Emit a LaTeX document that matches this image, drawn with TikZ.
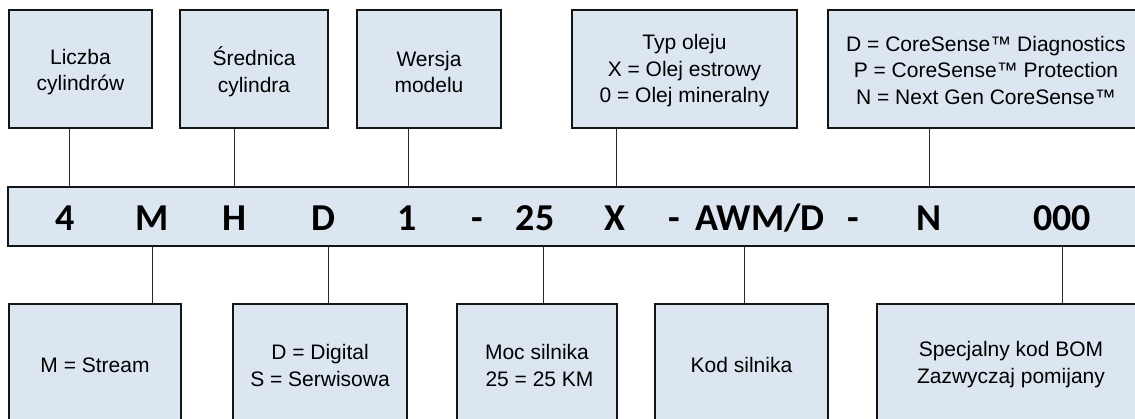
\documentclass[tikz,border=0pt]{standalone}
\usepackage{fontspec}
\setmainfont{Liberation Sans}
\newfontfamily\codefont{Carlito}
\definecolor{panel}{RGB}{220,230,241}
\definecolor{edge}{RGB}{20,20,20}
\definecolor{linkc}{RGB}{40,40,40}
\tikzset{
  box/.style={draw=edge, line width=2.4pt, fill=panel, align=center,
    font=\fontsize{21}{27}\selectfont, inner sep=0pt},
  topbox/.style={box, minimum height=118pt},
  botbox/.style={box, minimum height=122pt},
  boxtext/.style={align=center, font=\fontsize{21}{26.5}\selectfont, inner sep=0pt},
  codechar/.style={font=\codefont\bfseries\fontsize{38}{38}\selectfont,
    anchor=base, inner sep=0pt},
  link/.style={draw=linkc, line width=1pt},
}
\begin{document}
\begin{tikzpicture}[x=1pt,y=-1pt]
\useasboundingbox (0,0) rectangle (1135,419);
\clip (0,0) rectangle (1135,419);

% upper description boxes
\node[topbox, minimum width=143pt] (t1) at (80.5,69) {};
\node[topbox, minimum width=148pt] (t2) at (254,69) {};
\node[topbox, minimum width=144pt] (t3) at (429,69) {};
\node[topbox, minimum width=225pt] (t4) at (684.5,69) {};
\node[topbox, minimum width=316pt] (t5) at (986,69) {};
\node[boxtext] (t1l) at ([yshift=-3pt]t1.center) {Liczba\\cylindrów};
\node[boxtext] (t2l) at ([yshift=-3pt]t2.center) {Średnica\\cylindra};
\node[boxtext] (t3l) at ([yshift=-3pt]t3.center) {Wersja\\modelu};
\node[boxtext] (t4l) at ([yshift=-2pt]t4.center)
  {Typ oleju\\X = Olej estrowy\\0 = Olej mineralny};
\node[boxtext] (t5l) at ([yshift=-1pt]t5.center)
  {D = CoreSense™ Diagnostics\\P = CoreSense™ Protection\\N = Next Gen CoreSense™};

% model code band
\node[box, minimum width=1142pt, minimum height=59pt] (band) at (579,216.5) {};
\node[codechar] (c1) at (65,231) {4};
\node[codechar] (c2) at (152,231) {M};
\node[codechar] (c3) at (234,231) {H};
\node[codechar] (c4) at (323,231) {D};
\node[codechar] (c5) at (407,231) {1};
\node[codechar] (c6) at (477,231) {-};
\node[codechar] (c7) at (535,231) {25};
\node[codechar] (c8) at (615,231) {X};
\node[codechar] (c9) at (674,231) {-};
\node[codechar] (c10) at (760,231) {AWM/D};
\node[codechar] (c11) at (853,231) {-};
\node[codechar] (c12) at (929,231) {N};
\node[codechar] (c13) at (1062,231) {000};

% lower description boxes
\node[botbox, minimum width=172pt] (b1) at (95,365) {M = Stream};
\node[botbox, minimum width=174pt] (b2) at (320,365) {D = Digital\\S = Serwisowa};
\node[botbox, minimum width=160pt] (b3) at (537,365) {Moc silnika\\\hspace*{5pt}25 = 25 KM};
\node[botbox, minimum width=173pt] (b4) at (741.5,365) {Kod silnika};
\node[botbox, minimum width=268pt] (b5) at (1011,365) {Specjalny kod BOM\\Zazwyczaj pomijany};

% connector columns
\coordinate (k1) at (69,0);
\coordinate (k2) at (234,0);
\coordinate (k3) at (408,0);
\coordinate (k4) at (616,0);
\coordinate (k5) at (929,0);
\coordinate (m1) at (152,0);
\coordinate (m2) at (328,0);
\coordinate (m3) at (543,0);
\coordinate (m4) at (744,0);
\coordinate (m5) at (1062,0);

\draw[link] (t1.south -| k1) -- (band.north -| k1);
\draw[link] (t2.south -| k2) -- (band.north -| k2);
\draw[link] (t3.south -| k3) -- (band.north -| k3);
\draw[link] (t4.south -| k4) -- (band.north -| k4);
\draw[link] (t5.south -| k5) -- (band.north -| k5);

\draw[link] (band.south -| m1) -- (b1.north -| m1);
\draw[link] (band.south -| m2) -- (b2.north -| m2);
\draw[link] (band.south -| m3) -- (b3.north -| m3);
\draw[link] (band.south -| m4) -- (b4.north -| m4);
\draw[link] (band.south -| m5) -- (b5.north -| m5);
\end{tikzpicture}
\end{document}
